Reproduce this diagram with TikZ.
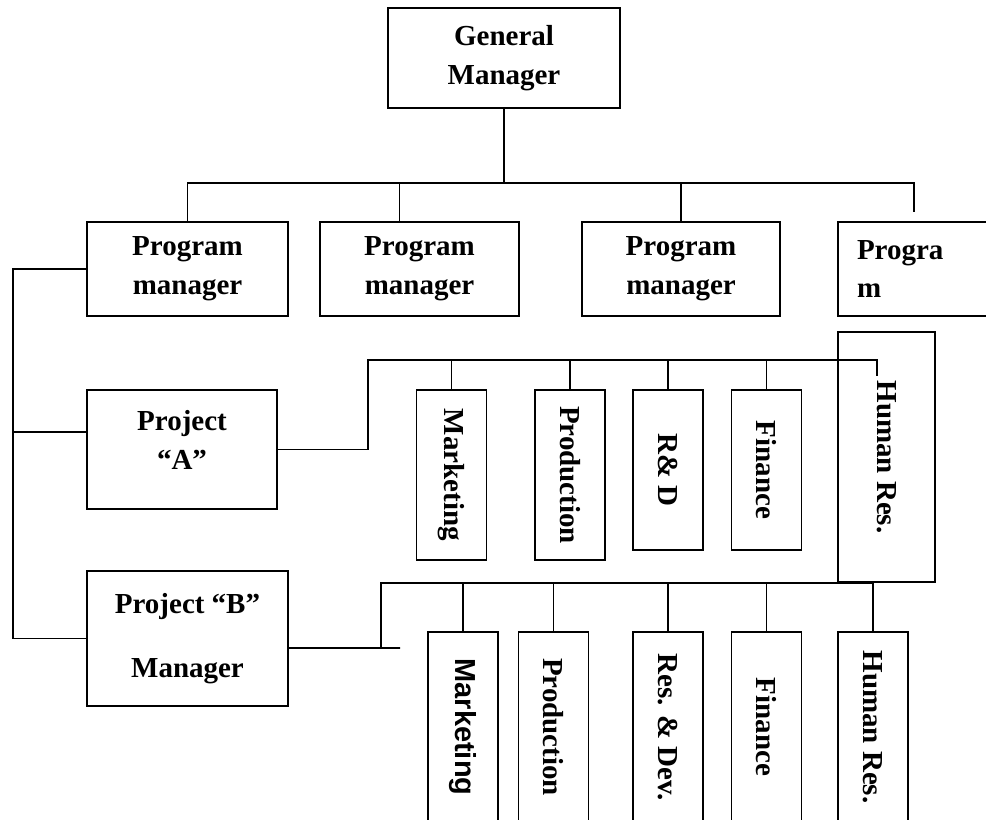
\documentclass[tikz,border=0pt]{standalone}
\usepackage{fontspec}
\setmainfont{Liberation Serif}
\newfontfamily\arialfont{Liberation Sans}
\usepackage{graphicx}
\tikzset{
  unit/.style={draw, line width=0.8pt, align=center, inner sep=0pt,
    font=\bfseries\fontsize{16.5}{22}\selectfont},
  dept/.style={unit, minimum width=1.4cm},
  link/.style={line width=1.1pt}
}
\newcommand{\vtext}[1]{\rotatebox{-90}{#1}}

\begin{document}
\begin{tikzpicture}[x=0.02cm, y=-0.02cm]
\useasboundingbox (0,0) rectangle (986,820);
\clip (0,0) rectangle (986,820);

\node[unit, minimum width=4.64cm, minimum height=2cm] (gm) at (504,58) {General\\Manager};

\node[unit, minimum width=4.02cm, minimum height=1.88cm] (pm1) at (187.5,269) {Program\\manager};
\node[unit, minimum width=3.98cm, minimum height=1.88cm] (pm2) at (419.5,269) {Program\\manager};
\node[unit, minimum width=3.96cm, minimum height=1.88cm] (pm3) at (681,269) {Program\\manager};
\node[unit, minimum width=3.44cm, minimum height=1.88cm, text width=2.68cm,
  align=left, inner xsep=0.38cm] (pm4) at (924,269) {Progra\\m};

\node[unit, minimum width=3.8cm, minimum height=2.38cm] (pa) at (182,449.5) {Project\\“A”\\[-0.4cm]\mbox{}};
\node[unit, minimum width=4.02cm, minimum height=2.7cm] (pb) at (187.5,638.5) {Project “B”\\[0.52cm]Manager};

%-------------------------------------
\node[dept, minimum height=3.4cm] (amkt) at (451.5,475) {\vtext{Marketing}};
\node[dept, minimum height=3.4cm] (aprod) at (570,475) {\vtext{Production}};
\node[dept, minimum height=3.2cm] (ard) at (668,470) {\vtext{R\& D}};
\node[dept, minimum height=3.2cm] (afin) at (766.5,470) {\vtext{Finance}};
\node[dept, minimum width=1.94cm, minimum height=5cm] (ahr) at (886.5,457) {\vtext{Human Res.}};

\node[dept, minimum height=3.8cm] (bmkt) at (463,727) {\vtext{\arialfont Marketing}};
\node[dept, minimum height=3.8cm] (bprod) at (553.5,727) {\vtext{Production}};
\node[dept, minimum height=3.8cm] (brd) at (668,727) {\vtext{Res. \& Dev.}};
\node[dept, minimum height=3.8cm] (bfin) at (766.5,727) {\vtext{Finance}};
\node[dept, minimum height=3.8cm] (bhr) at (873,727) {\vtext{Human Res.}};

%-------------------------------------
\coordinate (bus) at (509,183);
\coordinate (pm4top) at (914,212);
\coordinate (spine) at (13,265);
\coordinate (pawest) at ([yshift=0.35cm]pa.west);
\coordinate (abus) at (368,360);
\coordinate (ahrtop) at (877,376);
\coordinate (bbus) at (381,583);
\coordinate (bend) at (400,648);

\draw[link] (gm.south) -- (gm.south |- bus);
\draw[link] (pm1.north) |- (bus) -| (pm4top);
\draw[link] ([xshift=-0.4cm]pm2.north) -- ([xshift=-0.4cm]pm2.north |- bus);
\draw[link] (pm3.north) -- (pm3.north |- bus);

\draw[link] (pm1.west) -| (spine |- pb.west) -- (pb.west);
\draw[link] (spine |- pawest) -- (pawest);

\draw[link] (pa.east) -| (abus) -| (ahrtop);
\foreach \d in {amkt, aprod, ard, afin}
  \draw[link] (\d.north) -- (\d.north |- abus);

\draw[link] ([yshift=-0.19cm]pb.east) -- (bend);
\draw[link] (bbus |- bend) -- (bbus) -- (bhr.north |- bbus);
\foreach \d in {bmkt, bprod, brd, bfin, bhr}
  \draw[link] (\d.north) -- (\d.north |- bbus);

\end{tikzpicture}
\end{document}
